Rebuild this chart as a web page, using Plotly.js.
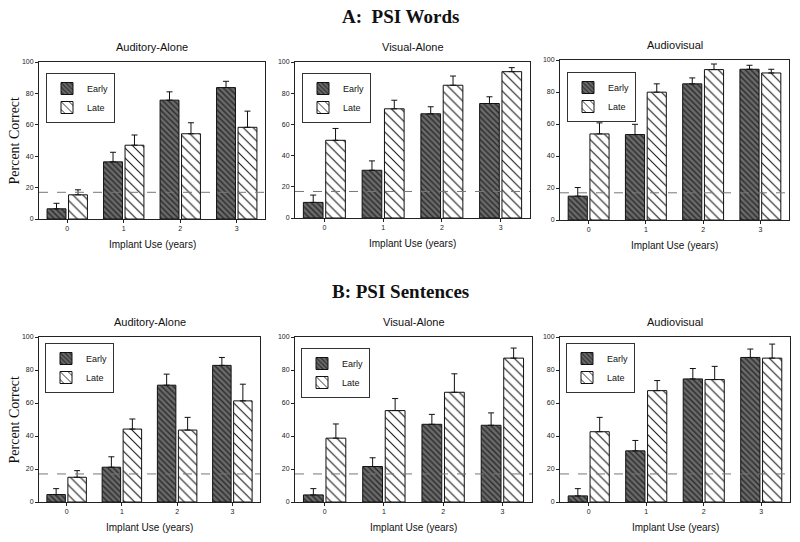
<!DOCTYPE html>
<html>
<head>
<meta charset="utf-8">
<script src="https://cdn.plot.ly/plotly-3.0.1.min.js"></script>
<style>
  body { margin: 0; background: #fff; }
  #chartDiv { width: 800px; height: 542px; }
</style>
</head>
<body>
<div id="chartDiv"></div>
<script>
// data ------------------------------------------
var years = ['0', '1', '2', '3'];
var panelTitles = ['Auditory-Alone', 'Visual-Alone', 'Audiovisual'];
var chance = 17;

// PSI Words
var wordsAudEarly = [6.5, 36.4, 75.7, 83.7];
var wordsAudEarlyErr = [3.5, 6.1, 5.3, 4.0];
var wordsAudLate = [15.4, 47.0, 54.3, 58.4];
var wordsAudLateErr = [3.2, 6.5, 7.0, 10.3];
var wordsVisEarly = [10.0, 30.6, 66.8, 73.4];
var wordsVisEarlyErr = [4.7, 6.0, 4.5, 4.3];
var wordsVisLate = [49.8, 70.0, 85.1, 93.8];
var wordsVisLateErr = [7.6, 5.5, 5.9, 2.6];
var wordsAVEarly = [14.9, 53.4, 85.1, 94.2];
var wordsAVEarlyErr = [5.4, 6.4, 3.7, 2.5];
var wordsAVLate = [53.8, 79.9, 94.0, 91.9];
var wordsAVLateErr = [6.9, 5.2, 3.5, 2.3];

// PSI Sentences
var sentAudEarly = [4.5, 21.1, 70.8, 82.8];
var sentAudEarlyErr = [3.6, 6.3, 6.7, 4.8];
var sentAudLate = [15.0, 44.2, 43.6, 61.3];
var sentAudLateErr = [4.0, 6.1, 7.7, 10.1];
var sentVisEarly = [4.3, 21.5, 47.1, 46.5];
var sentVisEarlyErr = [3.8, 5.3, 6.0, 7.5];
var sentVisLate = [38.7, 55.4, 66.5, 87.2];
var sentVisLateErr = [8.6, 7.3, 11.2, 6.1];
var sentAVEarly = [3.7, 31.0, 74.6, 87.6];
var sentAVEarlyErr = [4.4, 6.3, 6.3, 5.1];
var sentAVLate = [42.6, 67.5, 74.2, 87.2];
var sentAVLateErr = [8.7, 6.1, 8.0, 8.5];

var panels = [
  [wordsAudEarly, wordsAudEarlyErr, wordsAudLate, wordsAudLateErr],
  [wordsVisEarly, wordsVisEarlyErr, wordsVisLate, wordsVisLateErr],
  [wordsAVEarly, wordsAVEarlyErr, wordsAVLate, wordsAVLateErr],
  [sentAudEarly, sentAudEarlyErr, sentAudLate, sentAudLateErr],
  [sentVisEarly, sentVisEarlyErr, sentVisLate, sentVisLateErr],
  [sentAVEarly, sentAVEarlyErr, sentAVLate, sentAVLateErr]
];

// panel boxes in pixels [left, right, top, bottom]
var W = 800, H = 542;
var boxes = [
  [39, 265, 62, 219], [295, 530, 62, 218], [560, 789, 60, 220],
  [39, 260, 337, 502], [295, 532, 337, 502], [560, 790, 337, 502]
];
// legend top-left corners in pixels
var legPos = [[46, 73], [302, 73], [567, 72], [45, 343], [301, 348], [566, 343]];

var tickFont = {family: 'Liberation Sans, Arial', size: 7, color: '#222'};
var zeros = [0, 0, 0, 0];

var data = [];
var layout = {
  width: W, height: H,
  margin: {l: 0, r: 0, t: 0, b: 0},
  paper_bgcolor: '#fff', plot_bgcolor: '#fff',
  barmode: 'group', bargap: 0.24, bargroupgap: 0.12,
  showlegend: true,
  shapes: [], annotations: []
};

// text in paper coords, placed by its centre
var addText = (txt, px, py, font, angle) => {
  layout.annotations.push({
    text: txt, xref: 'paper', yref: 'paper', x: px / W, y: 1 - py / H,
    xanchor: 'center', yanchor: 'middle', showarrow: false,
    textangle: angle || 0, font: font
  });
};

panels.forEach((p, i) => {
  var n = i + 1;
  var key = n > 1 ? n : '';
  var xa = 'x' + key, ya = 'y' + key;
  var leg = 'legend' + key;
  var b = boxes[i];

  data.push({
    type: 'bar', x: years, y: p[0], name: 'Early',
    xaxis: xa, yaxis: ya, legend: leg,
    marker: {
      color: '#5a5a5a',
      line: {color: '#111', width: 1},
      pattern: {shape: '\\', fgcolor: '#2a2a2a', bgcolor: '#6a6a6a', size: 4, solidity: 0.35}
    },
    error_y: {type: 'data', symmetric: false, array: p[1], arrayminus: zeros, color: '#111', thickness: 1, width: 3}
  });
  data.push({
    type: 'bar', x: years, y: p[2], name: 'Late',
    xaxis: xa, yaxis: ya, legend: leg,
    marker: {
      color: '#fff',
      line: {color: '#111', width: 1},
      pattern: {shape: '\\', fgcolor: '#111', bgcolor: '#fff', size: 7, solidity: 0.15}
    },
    error_y: {type: 'data', symmetric: false, array: p[3], arrayminus: zeros, color: '#111', thickness: 1, width: 3}
  });

  layout['xaxis' + key] = {
    domain: [b[0] / W, b[1] / W], anchor: ya,
    type: 'category', range: [-0.5, 3.5],
    showline: true, mirror: true, linecolor: '#222', linewidth: 1,
    ticks: 'outside', ticklen: 3, tickcolor: '#222',
    tickfont: tickFont, showgrid: false, zeroline: false, fixedrange: true
  };
  layout['yaxis' + key] = {
    domain: [1 - b[3] / H, 1 - b[2] / H], anchor: xa,
    range: [0, 100], dtick: 20,
    showline: true, mirror: true, linecolor: '#222', linewidth: 1,
    ticks: 'outside', ticklen: 3, tickcolor: '#222',
    tickfont: tickFont, showgrid: false, zeroline: false, fixedrange: true
  };
  layout[leg] = {
    x: legPos[i][0] / W, y: 1 - legPos[i][1] / H,
    xanchor: 'left', yanchor: 'top',
    bgcolor: '#fff', bordercolor: '#333', borderwidth: 1,
    font: {family: 'Liberation Sans, Arial', size: 9, color: '#111'},
    itemwidth: 30, tracegroupgap: 0
  };

  // chance level line
  layout.shapes.push({
    type: 'line', xref: xa + ' domain', x0: 0, x1: 1,
    yref: ya, y0: chance, y1: chance,
    line: {color: '#777', width: 1, dash: 'dash'}
  });

  var cx = (b[0] + b[1]) / 2;
  addText(panelTitles[i % 3], cx, b[2] - 15, {family: 'Liberation Sans, Arial', size: 11, color: '#111'});
  addText('Implant Use (years)', cx, b[3] + 25, {family: 'Liberation Sans, Arial', size: 10, color: '#111'});
  if (i % 3 == 0) {
    addText('Percent Correct', 14, (b[2] + b[3]) / 2, {family: 'Liberation Serif, Times New Roman', size: 14, color: '#111'}, -90);
  }
});

addText('<b>A:  PSI Words</b>', 400, 16, {family: 'Liberation Serif, Times New Roman', size: 19, color: '#111'});
addText('<b>B: PSI Sentences</b>', 400, 291, {family: 'Liberation Serif, Times New Roman', size: 19, color: '#111'});

Plotly.newPlot('chartDiv', data, layout, {displayModeBar: false, staticPlot: true});
</script>
</body>
</html>
